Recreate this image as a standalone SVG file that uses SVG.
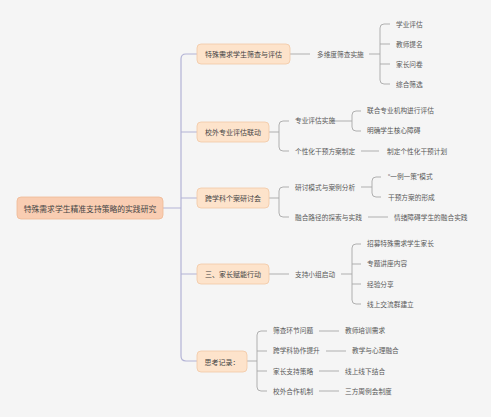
<svg xmlns="http://www.w3.org/2000/svg" width="491" height="417" viewBox="0 0 491 417">
<style>
text{font-family:"Noto Sans CJK SC","Noto Sans",sans-serif;font-size:6.7px;fill:#595959;dominant-baseline:central}
.q{font-family:"Liberation Sans","Noto Sans CJK SC",sans-serif}
.root rect{fill:#f9cdb2;stroke:#efb996;stroke-width:0.8}
.root text{font-size:7.8px;fill:#444;text-anchor:middle}
.br rect{fill:#fde3cb;stroke:#f1c8a4;stroke-width:0.8}
.br text{fill:#444;font-size:7px;text-anchor:middle}
.trunk{fill:none;stroke:#b3b3d6;stroke-width:1.2}
.ln{fill:none;stroke:#a8a8a8;stroke-width:0.9}
</style>
<rect width="491" height="417" fill="#f5f5f5"/>
<g id="connectors">
<path class="trunk" d="M163,208 H181 M197,54 H186 Q181,54 181,59 V356 Q181,361 186,361 H197 M181,132 H197 M181,198 H197 M181,274 H197"/>
<path class="ln" d="M290,54 H310 M369,54 H380 M390,24 H384 Q380,24 380,28 V80 Q380,84 384,84 H390 M380,44 H390 M380,64 H390"/>
<path class="ln" d="M269,132 H279 M289,121 H283 Q279,121 279,125 V147 Q279,151 283,151 H289"/>
<path class="ln" d="M331,121 H352 M361,111 H356 Q352,111 352,115 V127 Q352,131 356,131 H361"/>
<path class="ln" d="M361,151 H379"/>
<path class="ln" d="M269,198 H279 M289,187 H283 Q279,187 279,191 V213 Q279,217 283,217 H289"/>
<path class="ln" d="M361,187 H372 M381,177 H376 Q372,177 372,181 V193 Q372,197 376,197 H381"/>
<path class="ln" d="M368,217 H388"/>
<path class="ln" d="M269,274 H289 M341,274 H352 M361,244 H356 Q352,244 352,248 V300 Q352,304 356,304 H361 M352,264 H361 M352,284 H361"/>
<path class="ln" d="M247,361 H257 M267,331 H261 Q257,331 257,335 V387 Q257,391 261,391 H267 M257,351 H267 M257,371 H267"/>
<path class="ln" d="M319,331 H339 M326,351 H346 M319,371 H339 M319,391 H339"/>
</g>
<g id="root" class="root"><rect x="17" y="197" width="146" height="22" rx="4"/><text x="90" y="208">特殊需求学生精准支持策略的实践研究</text></g>
<g id="b1" class="br"><rect x="197" y="44" width="93" height="20" rx="4"/><text x="243.5" y="54">特殊需求学生筛查与评估</text></g>
<g id="b2" class="br"><rect x="197" y="122" width="72" height="20" rx="4"/><text x="233" y="132">校外专业评估联动</text></g>
<g id="b3" class="br"><rect x="197" y="188" width="72" height="20" rx="4"/><text x="233" y="198">跨学科个案研讨会</text></g>
<g id="b4" class="br"><rect x="197" y="264" width="72" height="20" rx="4"/><text x="233" y="274">三、家长赋能行动</text></g>
<g id="b5" class="br"><rect x="197" y="351" width="50" height="21" rx="4"/><text x="222" y="361.5">思考记录：</text></g>
<g id="n1"><text x="317" y="54">多维度筛查实施</text></g>
<g id="n1a"><text x="396" y="24">学业评估</text></g>
<g id="n1b"><text x="396" y="44">教师提名</text></g>
<g id="n1c"><text x="396" y="64">家长问卷</text></g>
<g id="n1d"><text x="396" y="84">综合筛选</text></g>
<g id="n2a"><text x="295" y="120">专业评估实施</text></g>
<g id="n2a1"><text x="367" y="110">联合专业机构进行评估</text></g>
<g id="n2a2"><text x="367" y="130">明确学生核心障碍</text></g>
<g id="n2b"><text x="295" y="151">个性化干预方案制定</text></g>
<g id="n2b1"><text x="387" y="151">制定个性化干预计划</text></g>
<g id="n3a"><text x="295" y="187">研讨模式与案例分析</text></g>
<g id="n3a1"><text class="q" x="388" y="176">“一例一策”模式</text></g>
<g id="n3a2"><text x="388" y="197">干预方案的形成</text></g>
<g id="n3b"><text x="295" y="217">融合路径的探索与实践</text></g>
<g id="n3b1"><text x="394" y="217">情绪障碍学生的融合实践</text></g>
<g id="n4"><text x="295" y="274">支持小组启动</text></g>
<g id="n4a"><text x="367" y="243">招募特殊需求学生家长</text></g>
<g id="n4b"><text x="367" y="263">专题讲座内容</text></g>
<g id="n4c"><text x="367" y="284">经验分享</text></g>
<g id="n4d"><text x="367" y="304">线上交流群建立</text></g>
<g id="n5a"><text x="273" y="330">筛查环节问题</text></g>
<g id="n5a1"><text x="345" y="330">教师培训需求</text></g>
<g id="n5b"><text x="273" y="350">跨学科协作提升</text></g>
<g id="n5b1"><text x="352" y="350">教学与心理融合</text></g>
<g id="n5c"><text x="273" y="371">家长支持策略</text></g>
<g id="n5c1"><text x="345" y="371">线上线下结合</text></g>
<g id="n5d"><text x="273" y="391">校外合作机制</text></g>
<g id="n5d1"><text x="345" y="391">三方周例会制度</text></g>
</svg>
